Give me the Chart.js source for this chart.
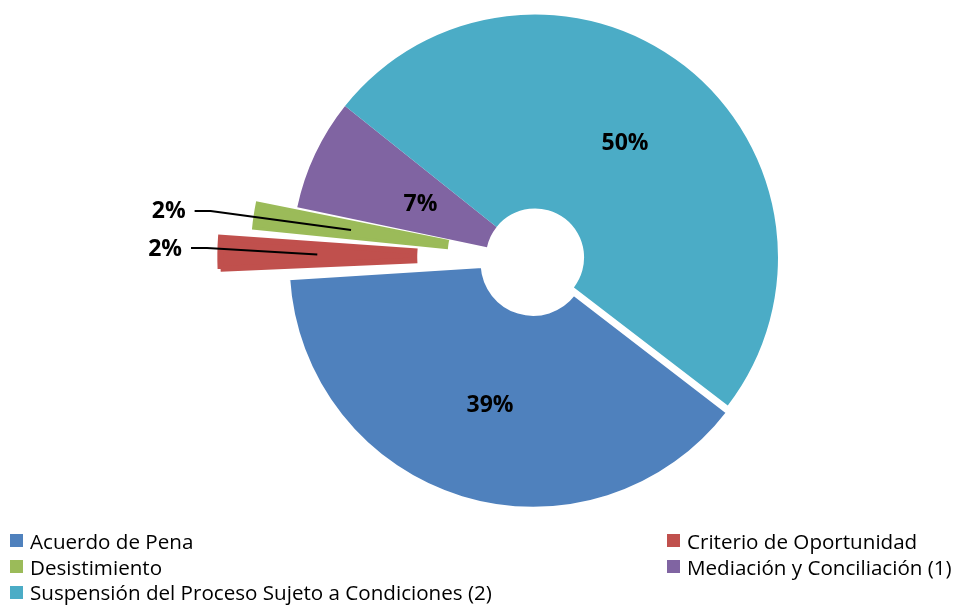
<!DOCTYPE html>
<html>
<head>
<meta charset="utf-8">
<script src="https://cdn.jsdelivr.net/npm/chart.js@4"></script>
<style>
  body { margin: 0; background: #fff; font-family: "Open Sans", sans-serif; }
  #wrap { position: relative; width: 958px; height: 605px; }
  #legend {
    position: absolute; left: 10px; top: 528px;
    display: grid; grid-template-columns: 657px auto;
    font-size: 20.6px; color: #000;
  }
  #legend .item { display: flex; align-items: center; height: 25.7px; white-space: nowrap; }
  #legend .box { width: 13px; height: 13px; margin-right: 7px; }
</style>
</head>
<body>
<div id="wrap">
  <canvas id="myChart"></canvas>
  <div id="legend"></div>
</div>
<script>
// categories and shares (percent)
const categories = ['Acuerdo de Pena', 'Criterio de Oportunidad', 'Desistimiento',
  'Mediación y Conciliación (1)', 'Suspensión del Proceso Sujeto a Condiciones (2)'];
const shares = [38.6, 2.4, 1.9, 7.4, 49.7];
const colors = ['#4F81BD', '#C0504D', '#9BBB59', '#8064A2', '#4BACC6'];

// percent labels drawn on / beside the slices
const sliceLabels = {
  id: 'sliceLabels',
  afterDatasetsDraw(chart, args, opts) {
    const ctx = chart.ctx;
    const meta = chart.getDatasetMeta(0);
    const total = shares.reduce((a, b) => a + b, 0);
    ctx.save();
    ctx.font = 'bold 23px "Open Sans"';
    ctx.fillStyle = '#000';
    ctx.strokeStyle = '#000';
    ctx.lineWidth = 2;
    ctx.textBaseline = 'middle';
    meta.data.forEach((arc, i) => {
      const p = arc.getProps(['x', 'y', 'startAngle', 'endAngle', 'innerRadius', 'outerRadius']);
      const off = (arc.options.offset || 0) / 4;
      const circ = p.endAngle - p.startAngle;
      // same explode shift the arc element uses
      const push = off * (2 - Math.sin(Math.min(Math.PI, circ)));
      const mid = (p.startAngle + p.endAngle) / 2;
      const c = Math.cos(mid), s = Math.sin(mid);
      const rr = p.innerRadius + (p.outerRadius - p.innerRadius) * opts.radius[i] + push;
      const ax = p.x + c * rr, ay = p.y + s * rr;
      const txt = Math.round(shares[i] / total * 100) + '%';
      if (opts.outside[i]) {
        const ex = p.x + c * opts.elbow, ey = p.y + s * opts.elbow + opts.nudge[i];
        const sx = ex - 16;
        ctx.beginPath();
        ctx.moveTo(ax, ay);
        ctx.lineTo(ex, ey);
        ctx.lineTo(sx, ey);
        ctx.stroke();
        ctx.textAlign = 'right';
        ctx.fillText(txt, sx - 9, ey + 1);
      } else {
        ctx.textAlign = 'center';
        ctx.fillText(txt, ax, ay + 1);
      }
    });
    ctx.restore();
  }
};

document.addEventListener("DOMContentLoaded", () => {
    var ctx = document.getElementById('myChart').getContext('2d');
    var chart = new Chart(ctx, {
        type: 'doughnut',
        data: {
            labels: categories,
            datasets: [{
                data: shares,
                backgroundColor: colors,
                borderColor: ['#ffffff', colors[1], colors[2], '#ffffff', '#ffffff'],
                borderWidth: [3, 6, 3, 0, 0],
                borderJoinStyle: 'miter',
                offset: [24, 155, 85, 0, 0],
                clip: false
            }]
        },
        options: {
            responsive: true,
            maintainAspectRatio: false,
            animation: false,
            events: [],
            rotation: 127.5,
            radius: 243,
            cutout: '20.2%',
            layout: { padding: { left: 112, right: 0, top: 0, bottom: 90 } },
            plugins: {
                legend: { display: false },
                tooltip: { enabled: false },
                sliceLabels: {
                    radius: [0.5, 0.5, 0.5, 0.4, 0.5],
                    outside: [false, true, true, false, false],
                    nudge: [0, -5, 2, 0, 0],
                    elbow: 328
                }
            }
        },
        plugins: [sliceLabels]
    });

    // legend in two columns, like the original
    var legend = document.getElementById('legend');
    categories.forEach((name, i) => {
        var item = document.createElement('div');
        item.className = 'item';
        var box = document.createElement('span');
        box.className = 'box';
        box.style.background = colors[i];
        var label = document.createElement('span');
        label.textContent = name;
        item.appendChild(box);
        item.appendChild(label);
        legend.appendChild(item);
    });
});
</script>
</body>
</html>
